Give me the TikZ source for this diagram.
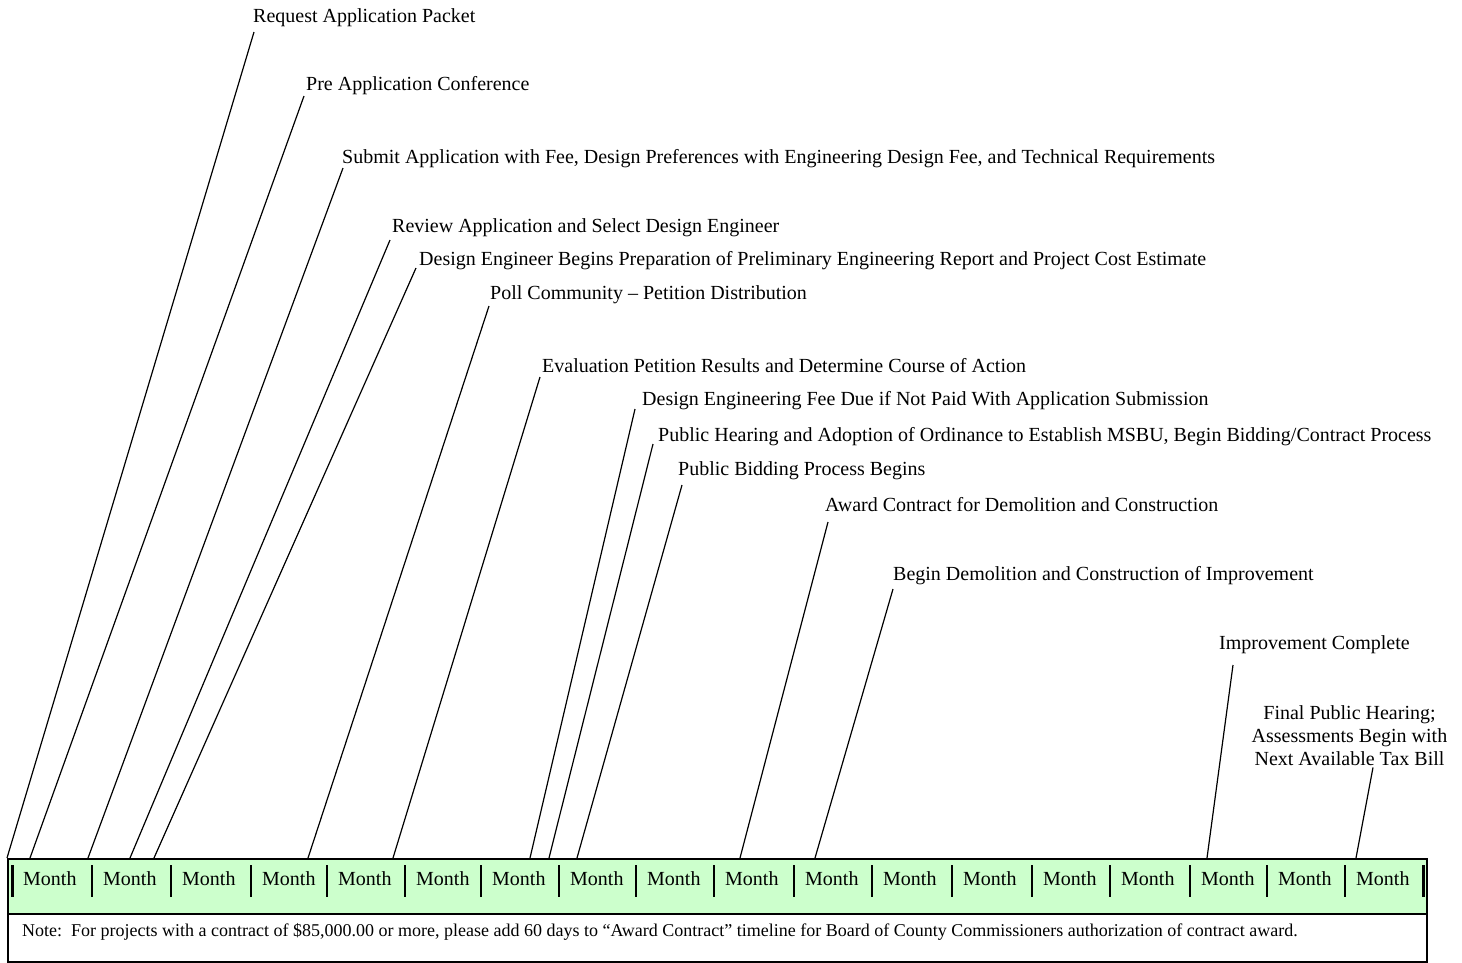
\documentclass[tikz,border=0pt]{standalone}
\usepackage{fontspec}
\setmainfont{Liberation Serif}
\definecolor{barfill}{RGB}{204,255,204}
\begin{document}
\begin{tikzpicture}[x=1pt,y=-1pt,
  lbl/.style={anchor=base west,inner sep=0pt,font=\fontsize{20}{23}\selectfont},
  leader/.style={line width=1.2pt},
  sepline/.style={line width=2pt},
  endsep/.style={line width=3pt},
  mon/.style={anchor=base west,inner sep=0pt,font=\fontsize{20}{23}\selectfont},
  barbox/.style={draw,line width=1.5pt,fill=barfill,anchor=north west,inner sep=0pt,minimum width=1419pt,minimum height=55pt},
  notebox/.style={draw,line width=1.5pt,fill=white,anchor=north west,inner sep=0pt,minimum width=1419pt,minimum height=48pt},
  notetext/.style={anchor=base west,inner sep=0pt,font=\fontsize{18}{21}\selectfont}]
\useasboundingbox (0,0) rectangle (1462,962);

% bar and note box
\node[barbox] (bar) at (7,858) {};
\node[notebox] (notebox) at (7,913) {};
\node[notetext] (note) at (22,936) {Note:\ \ For projects with a contract of \$85,000.00 or more, please add 60 days to “Award Contract” timeline for Board of County Commissioners authorization of contract award.};

% separators
\draw[endsep] (12,865) -- (12,897);
\foreach \x in {92,171,251,327,405,481,559,636,714,794,872,952,1032,1110,1190,1267,1345}
  \draw[sepline] (\x,865) -- (\x,897);
\draw[endsep] (1423,865) -- (1423,897);

% months
\foreach \x [count=\i] in {12,92,171,251,327,405,481,559,636,714,794,872,952,1032,1110,1190,1267,1345}
  \node[mon] (m\i) at (\x+11,885) {Month};

% labels
\node[lbl] (l1) at (253,22) {Request Application Packet};
\node[lbl] (l2) at (306,90) {Pre Application Conference};
\node[lbl] (l3) at (342,163) {Submit Application with Fee, Design Preferences with Engineering Design Fee, and Technical Requirements};
\node[lbl] (l4) at (392,232) {Review Application and Select Design Engineer};
\node[lbl] (l5) at (419,265) {Design Engineer Begins Preparation of Preliminary Engineering Report and Project Cost Estimate};
\node[lbl] (l6) at (490,299) {Poll Community – Petition Distribution};
\node[lbl] (l7) at (542,372) {Evaluation Petition Results and Determine Course of Action};
\node[lbl] (l8) at (642,405) {Design Engineering Fee Due if Not Paid With Application Submission};
\node[lbl] (l9) at (658,441) {Public Hearing and Adoption of Ordinance to Establish MSBU, Begin Bidding/Contract Process};
\node[lbl] (l10) at (678,475) {Public Bidding Process Begins};
\node[lbl] (l11) at (825,511) {Award Contract for Demolition and Construction};
\node[lbl] (l12) at (893,580) {Begin Demolition and Construction of Improvement};
\node[lbl] (l13) at (1219,649) {Improvement Complete};
\node[anchor=north,inner sep=0pt,align=center,font=\fontsize{20}{23}\selectfont] (l14) at (1349.5,705) {Final Public Hearing;\\Assessments Begin with\\Next Available Tax Bill};

% bar attachment points
\foreach \n/\x in {1/7,2/30,3/88,4/130,5/154,6/308,7/393,8/530,9/549,10/577,11/740,12/815,13/1207,14/1356}
  \coordinate (b\n) at (\x,858);

% leaders
\draw[leader] ([shift={(1,10)}]l1.base west) -- (b1);
\draw[leader] ([shift={(-2,6)}]l2.base west) -- (b2);
\draw[leader] ([shift={(1,5)}]l3.base west) -- (b3);
\draw[leader] ([shift={(-2,8)}]l4.base west) -- (b4);
\draw[leader] ([shift={(-3,3)}]l5.base west) -- (b5);
\draw[leader] ([shift={(-1,7)}]l6.base west) -- (b6);
\draw[leader] ([shift={(-2,5)}]l7.base west) -- (b7);
\draw[leader] ([shift={(-7,4)}]l8.base west) -- (b8);
\draw[leader] ([shift={(-5,3)}]l9.base west) -- (b9);
\draw[leader] ([shift={(4,10)}]l10.base west) -- (b10);
\draw[leader] ([shift={(3,11)}]l11.base west) -- (b11);
\draw[leader] ([shift={(0,9)}]l12.base west) -- (b12);
\draw[leader] ([shift={(14,16)}]l13.base west) -- (b13);
\draw[leader] ([shift={(23.5,2)}]l14.south) -- (b14);
\end{tikzpicture}
\end{document}
